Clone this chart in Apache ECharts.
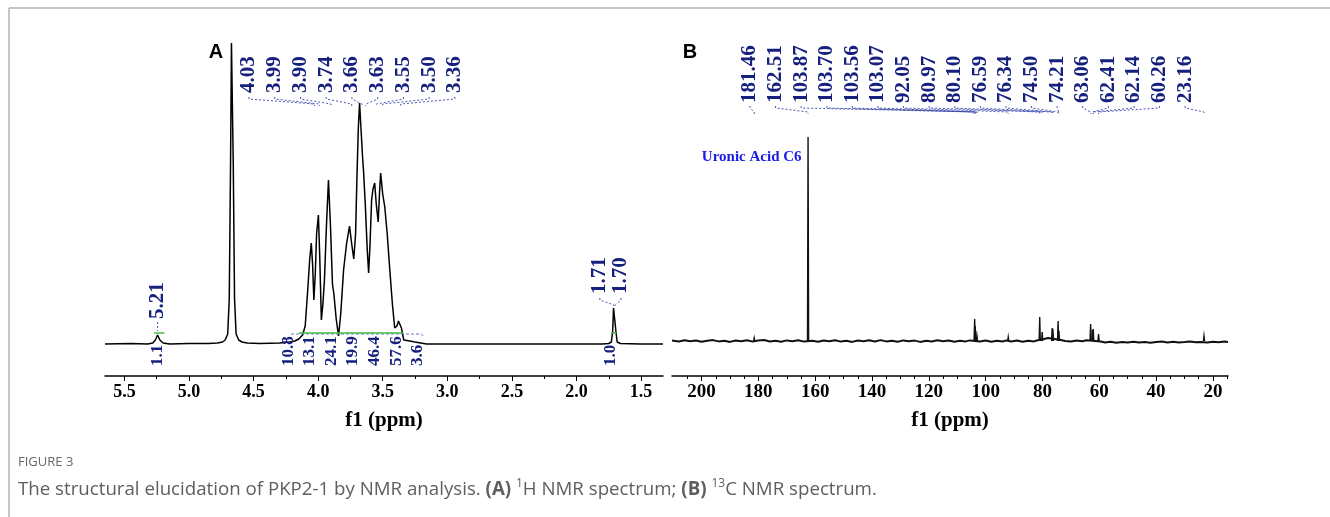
<!DOCTYPE html>
<html><head><meta charset="utf-8">
<script src="https://cdn.jsdelivr.net/npm/echarts@6/dist/echarts.min.js"></script>
<style>html,body{margin:0;padding:0;background:#fff}#c{width:1330px;height:517px}</style>
</head><body><div id="c"></div>
<script>
// ---------- DATA ----------
// 1H spectrum: [ppm, intensity]
const hSpectrum = [
 [5.65,0],[5.45,0.5],[5.32,0],[5.28,1],[5.26,4],[5.243,9],[5.225,4],[5.20,1],[5.15,0],[5.0,0.5],[4.85,0.5],
 [4.78,1],[4.74,2],[4.72,4],[4.70,10],[4.688,45],[4.678,180],[4.671,301],[4.664,301],[4.657,180],[4.647,45],
 [4.635,10],[4.615,4],[4.59,2],[4.55,1],[4.45,0.5],[4.30,1],[4.22,2],[4.18,3],[4.15,5],[4.12,9],[4.10,18],
 [4.08,55],[4.065,85],[4.053,101],[4.043,80],[4.033,44],[4.022,70],[4.012,110],[3.998,129],[3.988,90],
 [3.975,24],[3.963,40],[3.951,64],[3.935,120],[3.92,164],[3.905,120],[3.889,60],[3.878,50],[3.86,25],
 [3.842,8],[3.825,30],[3.803,74],[3.78,100],[3.757,118],[3.74,100],[3.724,85],[3.71,110],[3.70,164],
 [3.689,215],[3.679,241],[3.668,215],[3.655,185],[3.648,172],[3.635,140],[3.62,95],[3.609,71],[3.598,100],
 [3.586,144],[3.575,155],[3.562,161],[3.55,140],[3.535,122],[3.525,150],[3.516,171],[3.50,150],[3.484,137],
 [3.465,110],[3.445,74],[3.425,40],[3.407,16],[3.39,18],[3.378,23],[3.368,24],[3.355,16],[3.337,4],[3.29,3],
 [3.251,2],[3.16,0],[3.0,0],[2.5,0],[2.0,0],[1.80,0],[1.75,0.5],[1.73,2],[1.72,12],[1.713,36],[1.707,34],
 [1.700,35],[1.694,12],[1.685,2],[1.66,0.5],[1.5,0],[1.33,0]
];
const hClusterLabels = ['4.03','3.99','3.90','3.74','3.66','3.63','3.55','3.50','3.36'];
const hLabel521 = '5.21';
const hMethylLabels = ['1.71','1.70'];
const hIntegralRegions = [[5.27,5.19],[4.15,3.34],[1.73,1.69]];
const hIntegralSingles = ['1.1','1.0'];
const hIntegralCluster = ['10.8','13.1','24.1','19.9','46.4','57.6','3.6'];
const hTicks = [5.5,5.0,4.5,4.0,3.5,3.0,2.5,2.0,1.5];
const hMinorTicks = [5.25,4.75,4.25,3.75,3.25,2.75,2.25,1.75];

// 13C spectrum
const cPeaks   = [181.46,162.51,103.87,103.70,103.56,103.07,92.05,80.97,80.10,76.59,76.34,74.50,74.21,63.06,62.41,62.14,60.26,23.16];
const cHeights = [3,204,22,15,10,5,4,24,9,13,12,20,10,17,11,12,7,5];
const cBaseline = [
 [210.4,0.5],[208,-0.5],[206,0.8],[204,-0.3],[202,0.4],[200,-0.8],[198,0.3],[196,0.9],[194,-0.4],[192,0.2],
 [190,-0.9],[188,0.5],[186,-0.2],[184,0.8],[182,-0.6],[180,0.4],[178,1],[176,-0.5],[174,0.3],[172,-0.8],
 [170,0.6],[168,-0.3],[166,0.7],[164,-0.6],[161,0.3],[159,-0.7],[157,0.5],[155,-0.2],[153,0.8],[151,-0.6],
 [149,0.2],[147,-0.9],[145,0.5],[143,-0.3],[141,0.7],[139,-0.5],[137,0.9],[135,-0.4],[133,0.2],[131,-0.8],
 [129,0.6],[127,-0.3],[125,0.4],[123,-0.9],[121,0.3],[119,-0.5],[117,0.7],[115,-0.2],[113,0.5],[111,-0.7],
 [109,0.3],[107,-0.4],[105.5,0.6],[102,-0.5],[100,0.4],[98,-0.8],[96,0.2],[94,-0.5],[92.8,0.6],[91,-0.4],
 [89,0.5],[87,-0.7],[85,0.3],[83,-0.4],[82,0.5],[79.5,2],[78,3],[77.5,2.5],[73.5,1],[72,0],[70,-0.6],
 [68,0.4],[66,-0.3],[64.5,0.8],[59.5,-0.5],[58,-1.5],[56,-0.8],[54,-1.8],[52,-1],[50,-1.6],[48,-0.7],
 [46,-1.5],[44,-0.9],[42,-1.7],[40,-1],[38,-0.6],[36,-1.4],[34,-0.8],[32,-1.6],[30,-1.1],[28,-0.5],
 [26,-1.3],[24.5,-0.9],[22,-1.5],[20,-0.7],[18,-1.2],[16,-0.6],[14.7,-1]
];
const cAnnotation = 'Uronic Acid C6';
const cTicks = [200,180,160,140,120,100,80,60,40,20];
const cMinorTicks = [205,195,190,185,175,170,165,155,150,145,135,130,125,115,110,105,95,90,85,75,70,65,55,50,45,35,30,25,15];

// ---------- LAYOUT ----------
const NAVY = '#16207e', FAN = '#2a38a4';
const serif = 'Liberation Serif';
const aLabelStart = 4.535, aLabelStep = 0.1992;   // ppm spacing of top labels (A)
const bLabelStart = 182.95, bLabelStep = 9.01;    // ppm spacing of top labels (B)
const intStart = 4.232, intStep = 0.1673;
const CLEAR = {color:'rgba(0,0,0,0)', opacity:1};

const rotLabel = (size) => ({show:true, formatter:p=>p.name, position:'inside', rotate:90, align:'left',
  verticalAlign:'middle', fontFamily:serif, fontWeight:'bold', fontSize:size, color:NAVY,
  textBorderWidth:0, opacity:1});

// A labels
const aTop = hClusterLabels.map((t,i)=>({name:t, value:[aLabelStart - i*aLabelStep, 251]}));
const aFan = hClusterLabels.map((t,i)=>{const lx=aLabelStart-i*aLabelStep, p=parseFloat(t);
  return {coords:[[lx,247],[lx,245],[p,240],[p,238]]};});
const methylX = [1.819, 1.656];
const aMethyl = hMethylLabels.map((t,i)=>({name:t, value:[methylX[i], 50]}));
const aMethylFan = hMethylLabels.map((t,i)=>({coords:[[methylX[i],46],[methylX[i],44],[parseFloat(t),39],[parseFloat(t),37]]}));
const a521 = [{name:hLabel521, value:[5.243, 25]}];
const a521Fan = [{coords:[[5.243,22],[5.243,13]]}];
const aInt = hIntegralCluster.map((t,i)=>({name:t, value:[intStart - i*intStep, -22]}))
  .concat([{name:hIntegralSingles[0], value:[5.243,-22]},{name:hIntegralSingles[1], value:[1.734,-22]}]);
const aGreen = hIntegralRegions.map(r=>({coords:[[r[0],11],[r[1],11]]}));

// B labels
const bTop = cPeaks.map((p,i)=>({name:p.toFixed(2), value:[bLabelStart - i*bLabelStep, 238]}));
const bFan = cPeaks.map((p,i)=>{const lx=bLabelStart-i*bLabelStep; return {coords:[[lx,235],[lx,233],[p,229],[p,227]]};});
const bSpikes = cPeaks.map((p,i)=>({coords:[[p+0.2,0],[p,cHeights[i]],[p-0.2,0]]}));

const tickLabel = (size)=>({fontFamily:serif, fontWeight:'bold', fontSize:size, color:'#000'});
const axisName = {fontFamily:serif, fontWeight:'bold', fontSize:21, color:'#000'};

const chart = echarts.init(document.getElementById('c'), null, {renderer:'canvas'});
chart.setOption({
  animation:false,
  grid:[{left:105, top:40, width:558, height:336},{left:672, top:40, width:556, height:336}],
  xAxis:[
    {gridIndex:0, type:'value', min:1.33, max:5.65, inverse:true, position:'bottom',
     axisLine:{onZero:false, lineStyle:{color:'#000', width:1.5}}, splitLine:{show:false},
     axisTick:{customValues:hTicks, length:5, lineStyle:{color:'#000'}},
     axisLabel:{customValues:hTicks, formatter:v=>v.toFixed(1), margin:7, ...tickLabel(18)},
     name:'f1 (ppm)', nameLocation:'middle', nameGap:34, nameTextStyle:axisName},
    {gridIndex:0, type:'value', min:1.33, max:5.65, inverse:true, position:'bottom', offset:0,
     axisLine:{show:false, onZero:false}, splitLine:{show:false},
     axisTick:{customValues:hMinorTicks, length:3, lineStyle:{color:'#000'}}, axisLabel:{show:false}},
    {gridIndex:1, type:'value', min:14.7, max:210.4, inverse:true, position:'bottom',
     axisLine:{onZero:false, lineStyle:{color:'#000', width:1.5}}, splitLine:{show:false},
     axisTick:{customValues:cTicks, length:5, lineStyle:{color:'#000'}},
     axisLabel:{customValues:cTicks, margin:7, ...tickLabel(19)},
     name:'f1 (ppm)', nameLocation:'middle', nameGap:34, nameTextStyle:axisName},
    {gridIndex:1, type:'value', min:14.7, max:210.4, inverse:true, position:'bottom', offset:0,
     axisLine:{show:false, onZero:false}, splitLine:{show:false},
     axisTick:{customValues:cMinorTicks, length:3, lineStyle:{color:'#000'}}, axisLabel:{show:false}}
  ],
  yAxis:[
    {gridIndex:0, type:'value', min:-32, max:304, show:false},
    {gridIndex:1, type:'value', min:-35, max:301, show:false}
  ],
  series:[
    {type:'line', xAxisIndex:0, yAxisIndex:0, data:hSpectrum, symbol:'none', z:3,
     lineStyle:{color:'#000', width:1.5}},
    {type:'lines', coordinateSystem:'cartesian2d', xAxisIndex:0, yAxisIndex:0, polyline:true, z:4,
     data:[{coords:[[4.21,10],[3.2,10],[3.18,7]]}], lineStyle:{color:'#4a56bb', width:1, type:[3,2], opacity:0.8}},
    {type:'lines', coordinateSystem:'cartesian2d', xAxisIndex:0, yAxisIndex:0, polyline:true, z:5,
     data:aGreen, lineStyle:{color:'#44b844', width:1.5, opacity:1}},
    {type:'lines', coordinateSystem:'cartesian2d', xAxisIndex:0, yAxisIndex:0, polyline:true, z:4,
     data:aFan.concat(aMethylFan, a521Fan), lineStyle:{color:FAN, width:1, type:[2,2], opacity:0.85}},
    {type:'scatter', xAxisIndex:0, yAxisIndex:0, symbolSize:1, itemStyle:CLEAR,
     data:aTop.concat(aMethyl, a521), label:rotLabel(21), labelLayout:{hideOverlap:false}, z:6},
    {type:'scatter', xAxisIndex:0, yAxisIndex:0, symbolSize:1, itemStyle:CLEAR,
     data:aInt, label:rotLabel(17), labelLayout:{hideOverlap:false}, z:6},

    {type:'line', xAxisIndex:2, yAxisIndex:1, data:cBaseline, symbol:'none', z:3,
     lineStyle:{color:'#111', width:2}},
    {type:'lines', coordinateSystem:'cartesian2d', xAxisIndex:2, yAxisIndex:1, polyline:true, z:4,
     data:bSpikes, lineStyle:{color:'#111', width:1.4, opacity:1}},
    {type:'lines', coordinateSystem:'cartesian2d', xAxisIndex:2, yAxisIndex:1, polyline:true, z:4,
     data:bFan, lineStyle:{color:FAN, width:1, type:[2,2], opacity:0.85}},
    {type:'scatter', xAxisIndex:2, yAxisIndex:1, symbolSize:1, itemStyle:CLEAR,
     data:bTop, label:rotLabel(21), labelLayout:{hideOverlap:false}, z:6},
    {type:'scatter', xAxisIndex:2, yAxisIndex:1, symbolSize:1, itemStyle:CLEAR,
     data:[{name:cAnnotation, value:[cPeaks[1], 184]}],
     label:{show:true, formatter:p=>p.name, position:'left', distance:6, fontFamily:serif,
       fontWeight:'bold', fontSize:15, color:'#1a1ae6', opacity:1}, z:6}
  ],
  graphic:[
    {type:'line', shape:{x1:9,y1:8,x2:1330,y2:8}, style:{stroke:'#b3b3b3', lineWidth:1.5}},
    {type:'line', shape:{x1:9,y1:8,x2:9,y2:517}, style:{stroke:'#b3b3b3', lineWidth:1.5}},
    {type:'text', x:216, y:52, style:{text:'A', fontFamily:'Liberation Sans', fontWeight:'bold', fontSize:20,
      fill:'#000', align:'center', verticalAlign:'middle'}},
    {type:'text', x:690, y:52, style:{text:'B', fontFamily:'Liberation Sans', fontWeight:'bold', fontSize:20,
      fill:'#000', align:'center', verticalAlign:'middle'}},
    {type:'text', x:18, y:462, style:{text:'FIGURE 3', fontFamily:'Open Sans', fontSize:13,
      fill:'#666', align:'left', verticalAlign:'middle'}},
    {type:'text', x:18, y:490, style:{
      text:'The structural elucidation of PKP2-1 by NMR analysis. {b|(A)} {s|1}H NMR spectrum; {b|(B)} {s|13}C NMR spectrum.',
      fontFamily:'Open Sans', fontSize:18.7, fill:'#5e5e5e', align:'left', verticalAlign:'middle', lineHeight:24,
      rich:{b:{fontFamily:'Open Sans', fontWeight:'bold', fontSize:18.7, fill:'#5e5e5e', lineHeight:24},
            s:{fontFamily:'Open Sans', fontSize:12, fill:'#5e5e5e', lineHeight:12, verticalAlign:'top'}}}}
  ]
});
</script></body></html>
